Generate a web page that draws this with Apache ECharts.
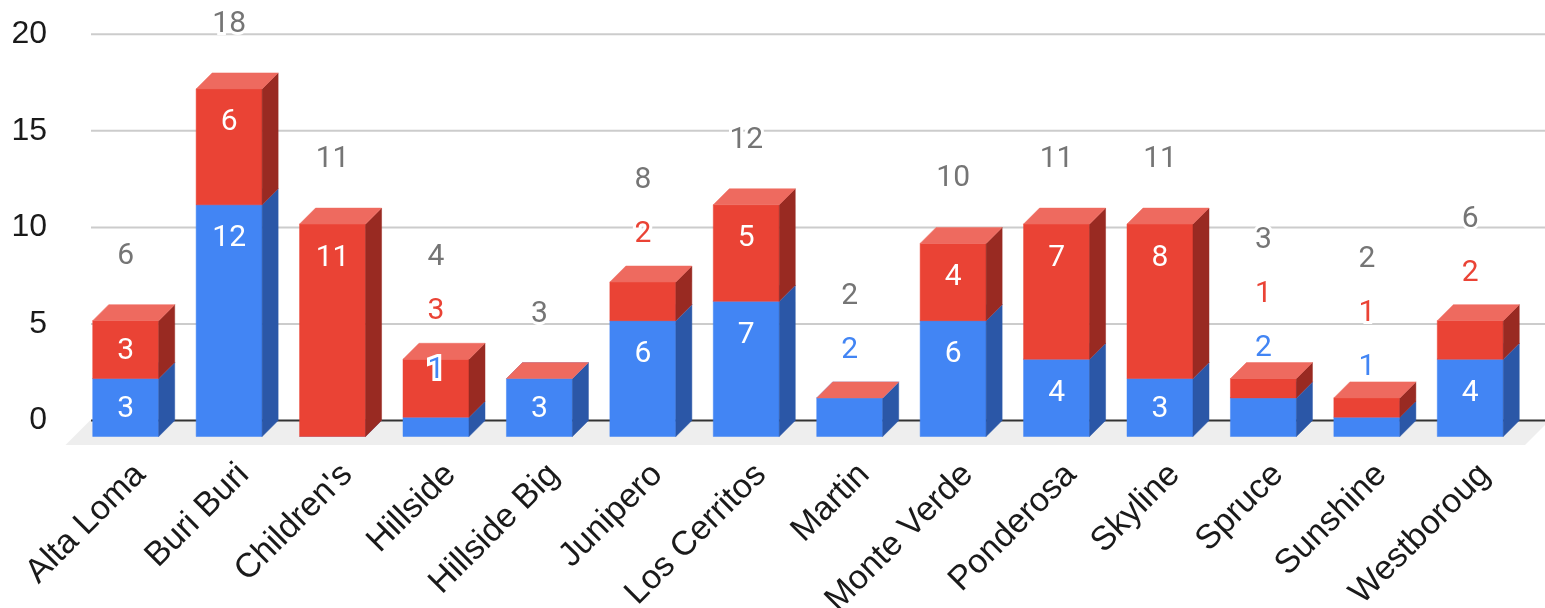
<!DOCTYPE html>
<html><head><meta charset="utf-8">
<script src="https://cdn.jsdelivr.net/npm/echarts@6/dist/echarts.min.js"></script>
<style>html,body{margin:0;padding:0;background:#fff}#c{width:1545px;height:608px}</style>
</head><body><div id="c"></div>
<script>
const categories = ['Alta Loma', 'Buri Buri', "Children's", 'Hillside', 'Hillside Big', 'Junipero', 'Los Cerritos', 'Martin', 'Monte Verde', 'Ponderosa', 'Skyline', 'Spruce', 'Sunshine', 'Westboroug'];
const seriesBlue = [3, 12, 0, 1, 3, 6, 7, 2, 6, 4, 3, 2, 1, 4];
const seriesRed  = [3, 6, 11, 3, 0, 2, 5, 0, 4, 7, 8, 1, 1, 2];
const yTicks = [0, 5, 10, 15, 20];

const BLUE = {front: '#4285F4', side: '#2B57A7', top: '#6C9EF6'};
const RED  = {front: '#EA4335', side: '#992A22', top: '#EE6A5F'};
const D = 16;            // depth of 3D offset in px
const BAR_FRAC = 0.638;
const FONT = 'Roboto, "Noto Sans", sans-serif';
const AXIS_FONT = '"Liberation Sans", Arial, sans-serif';
const LABEL_SIZE = 30;

const bases = seriesBlue.slice();

function barSeries(name, vals, base, colors, z) {
  return {
    type: 'custom', name: name, xAxisIndex: 0, yAxisIndex: 0, z: z,
    data: vals.map((v, i) => [i, base[i], base[i] + v]),
    renderItem: function (params, api) {
      const i = api.value(0);
      const p0 = api.coord([i, api.value(1)]);
      const p1 = api.coord([i, api.value(2)]);
      const w = api.size([1, 0])[0] * BAR_FRAC;
      const cx = p0[0] - D;
      const xl = cx - w / 2, xr = cx + w / 2;
      const yb = p0[1] + D, yt = p1[1] + D;
      const ch = [];
      if (yb - yt > 0) {
        ch.push({type: 'rect', shape: {x: xl, y: yt, width: w, height: yb - yt}, style: {fill: colors.front, stroke: colors.front, lineWidth: 0.5}});
        ch.push({type: 'polygon', shape: {points: [[xr, yt], [xr + D, yt - D], [xr + D, yb - D], [xr, yb]]}, style: {fill: colors.side, stroke: colors.side, lineWidth: 0.5}});
      }
      ch.push({type: 'polygon', shape: {points: [[xl, yt], [xl + D, yt - D], [xr + D, yt - D], [xr, yt]]}, style: {fill: colors.top, stroke: colors.top, lineWidth: 0.5}});
      return {type: 'group', children: ch};
    }
  };
}

function lbl(x, y, text, color, halo) {
  const out = [];
  const st = {text: String(text), fontSize: LABEL_SIZE, fontFamily: FONT, align: 'center', verticalAlign: 'middle'};
  if (halo) {
    out.push({type: 'text', x: x, y: y, style: Object.assign({}, st, {fill: '#fff', stroke: '#fff', lineWidth: 6})});
  }
  out.push({type: 'text', x: x, y: y, style: Object.assign({}, st, {fill: color})});
  return out;
}

const INSIDE_MIN = 50;
const labelSeries = {
  type: 'custom', xAxisIndex: 0, yAxisIndex: 0, z: 5,
  data: categories.map((c, i) => [i, seriesBlue[i], seriesRed[i]]),
  renderItem: function (params, api) {
    const i = api.value(0);
    const segs = [{v: api.value(1), color: BLUE.front}, {v: api.value(2), color: RED.front}];
    const cx = api.coord([i, 0])[0] - D;
    let base = 0, carry = null;
    const texts = [], outside = [];
    for (const s of segs) {
      const y0 = api.coord([i, base])[1] + D;
      const y1 = api.coord([i, base + s.v])[1] + D;
      base += s.v;
      if (s.v === 0) continue;
      const h = y0 - y1;
      const fits = h >= INSIDE_MIN;
      if (carry) {
        if (fits) {
          texts.push(...lbl(cx, y1 + 11, carry.v, carry.color, true));
          outside.push(s); carry = null; continue;
        }
        outside.push(carry); carry = null;
      }
      if (fits) texts.push(...lbl(cx, y1 + Math.min(34, h / 2 + 2), s.v, '#fff', false));
      else carry = s;
    }
    if (carry) outside.push(carry);
    const T = api.coord([i, base])[1] + D;
    const n = outside.length;
    const yTotal = T - 64.5 - 36.8 * n;
    outside.forEach((s, k) => texts.push(...lbl(cx, yTotal + 54 * (n - k), s.v, s.color, true)));
    texts.push(...lbl(cx, yTotal, base, '#757575', true));
    return {type: 'group', children: texts};
  }
};

const backSeries = {
  type: 'custom', xAxisIndex: 0, yAxisIndex: 0, z: 1, silent: true,
  data: [[0]],
  renderItem: function (params, api) {
    const cs = params.coordSys;
    const L = cs.x, W = api.getWidth();
    const y0 = api.coord([0, 0])[1];
    const ch = [];
    ch.push({type: 'polygon', shape: {points: [[L, y0], [W + 4.5, y0], [W + 4.5 - 24.5, y0 + 24.5], [L - 24.5, y0 + 24.5]]}, style: {fill: '#EEEEEE'}});
    yTicks.forEach(v => {
      if (v === 0) return;
      const y = api.coord([0, v])[1];
      ch.push({type: 'line', shape: {x1: L + 1, y1: y, x2: W, y2: y}, style: {stroke: '#CCCCCC', lineWidth: 2}});
    });
    ch.push({type: 'line', shape: {x1: L + 1, y1: y0, x2: W, y2: y0}, style: {stroke: '#333333', lineWidth: 2}});
    return {type: 'group', children: ch};
  }
};

const chart = echarts.init(document.getElementById('c'), null, {renderer: 'canvas'});
chart.setOption({
  animation: false,
  backgroundColor: '#fff',
  grid: [
    {left: 90, width: 1448, top: 34.3, height: 386.2, outerBoundsMode: 'none', containLabel: false},
    {left: 88.5, width: 1448, top: 34.3, height: 386.2, outerBoundsMode: 'none', containLabel: false}
  ],
  xAxis: [
    {type: 'category', gridIndex: 0, data: categories, show: false},
    {type: 'category', gridIndex: 1, data: categories,
     axisLine: {show: false}, axisTick: {show: false},
     axisLabel: {interval: 0, rotate: 45, margin: 49, fontSize: 34, color: '#1a1a1a', fontFamily: AXIS_FONT}}
  ],
  yAxis: [
    {type: 'value', gridIndex: 0, min: 0, max: 20, interval: 5,
     axisLine: {show: false}, axisTick: {show: false}, splitLine: {show: false},
     axisLabel: {margin: 43, fontSize: 32, color: '#1a1a1a', fontFamily: AXIS_FONT}},
    {type: 'value', gridIndex: 1, min: 0, max: 20, show: false}
  ],
  series: [
    backSeries,
    barSeries('Blue', seriesBlue, seriesBlue.map(() => 0), BLUE, 2),
    barSeries('Red', seriesRed, bases, RED, 3),
    labelSeries
  ]
});
</script></body></html>
